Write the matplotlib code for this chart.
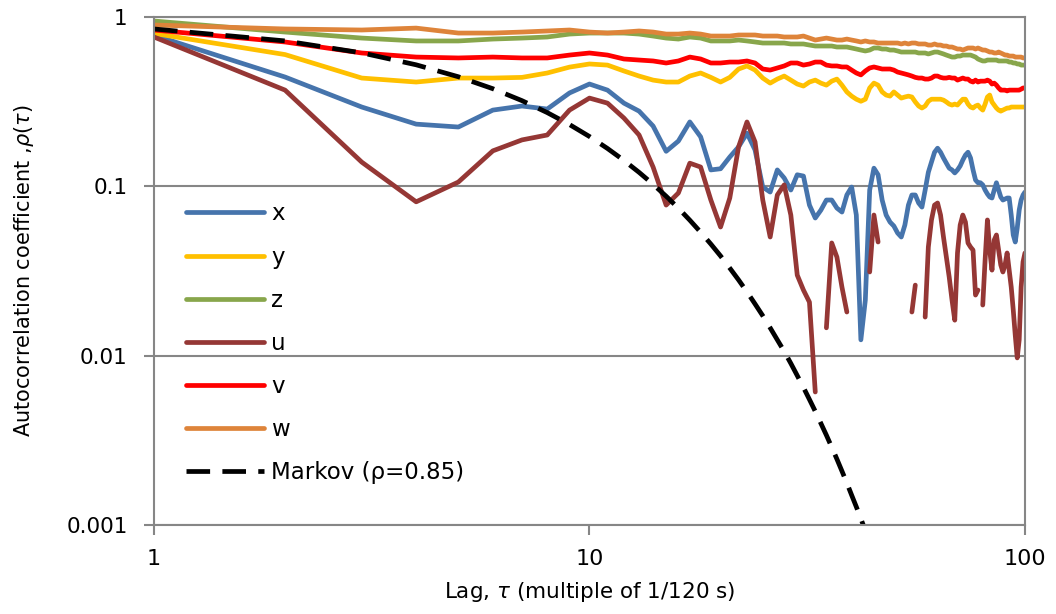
import numpy as np
import matplotlib
matplotlib.use('Agg')
import matplotlib.pyplot as plt

nan = np.nan

# Lags (multiples of 1/120 s)
lags = list(range(1, 101))

x_vals = [0.78, 0.442, 0.294, 0.233, 0.224, 0.282, 0.298, 0.286, 0.356, 0.402,
          0.370, 0.310, 0.278, 0.227, 0.161, 0.185, 0.240, 0.196, 0.125, 0.127,
          0.149, 0.171, 0.206, 0.164, 0.099, 0.0925, 0.125, 0.112, 0.0951, 0.117,
          0.115, 0.0775, 0.065, 0.0724, 0.083, 0.083, 0.0744, 0.0705, 0.0889, 0.0991,
          0.0677, 0.0124, 0.0213, 0.0951, 0.128, 0.117, 0.083, 0.0677, 0.0615, 0.0583,
          0.053, 0.0502, 0.0591, 0.0775, 0.0889, 0.0889, 0.0797, 0.0754, 0.0951, 0.121,
          0.139, 0.159, 0.168, 0.159, 0.147, 0.137, 0.128, 0.125, 0.120, 0.125,
          0.132, 0.143, 0.153, 0.159, 0.147, 0.125, 0.109, 0.105, 0.105, 0.102,
          0.0951, 0.0901, 0.0865, 0.0853, 0.0951, 0.105, 0.0951, 0.0865, 0.083, 0.0841,
          0.0853, 0.0853, 0.0677, 0.0516, 0.0469, 0.0567, 0.0724, 0.083, 0.0889, 0.0925]

y_vals = [0.80, 0.60, 0.436, 0.413, 0.436, 0.436, 0.44, 0.467, 0.506, 0.528,
          0.52, 0.48, 0.448, 0.424, 0.413, 0.413, 0.448, 0.467, 0.44, 0.413,
          0.44, 0.493, 0.514, 0.486, 0.436, 0.407, 0.43, 0.448, 0.424, 0.402,
          0.391, 0.413, 0.424, 0.407, 0.396, 0.418, 0.43, 0.396, 0.361, 0.341,
          0.327, 0.318, 0.327, 0.381, 0.407, 0.396, 0.361, 0.346, 0.341, 0.361,
          0.346, 0.332, 0.337, 0.341, 0.337, 0.315, 0.298, 0.29, 0.298, 0.318,
          0.327, 0.327, 0.327, 0.327, 0.323, 0.315, 0.306, 0.302, 0.306, 0.302,
          0.315, 0.327, 0.327, 0.306, 0.294, 0.29, 0.298, 0.302, 0.29, 0.282,
          0.306, 0.337, 0.346, 0.315, 0.302, 0.29, 0.282, 0.278, 0.282, 0.286,
          0.29, 0.29, 0.294, 0.294, 0.294, 0.294, 0.294, 0.294, 0.294, 0.294]

z_vals = [0.947, 0.815, 0.751, 0.722, 0.722, 0.741, 0.751, 0.762, 0.793, 0.804,
          0.804, 0.804, 0.793, 0.772, 0.751, 0.741, 0.762, 0.751, 0.722, 0.722,
          0.722, 0.731, 0.722, 0.712, 0.702, 0.702, 0.702, 0.702, 0.693, 0.693,
          0.693, 0.683, 0.674, 0.674, 0.674, 0.674, 0.665, 0.665, 0.665, 0.656,
          0.647, 0.638, 0.630, 0.638, 0.656, 0.656, 0.647, 0.647, 0.638, 0.638,
          0.630, 0.621, 0.621, 0.621, 0.621, 0.621, 0.613, 0.613, 0.613, 0.605,
          0.613, 0.621, 0.621, 0.613, 0.605, 0.596, 0.588, 0.58, 0.58, 0.588,
          0.588, 0.596, 0.596, 0.596, 0.596, 0.588, 0.58, 0.565, 0.557, 0.55,
          0.55, 0.557, 0.557, 0.557, 0.557, 0.557, 0.55, 0.55, 0.55, 0.55,
          0.55, 0.542, 0.542, 0.535, 0.535, 0.528, 0.528, 0.52, 0.52, 0.52]

u_vals = [0.762, 0.370, 0.139, 0.081, 0.106, 0.162, 0.188, 0.201, 0.282, 0.332,
          0.310, 0.253, 0.201, 0.130, 0.0775, 0.0913, 0.137, 0.130, 0.083, 0.0575,
          0.0853, 0.171, 0.240, 0.183, 0.083, 0.0502, 0.0889, 0.102, 0.0677, 0.0299,
          0.0244, 0.0207, 0.0061, nan, 0.0146, 0.0463, 0.0382, 0.0254, 0.0181, nan,
          nan, nan, nan, 0.0312, 0.0677, 0.0469, nan, nan, nan, nan,
          nan, nan, nan, nan, 0.0181, 0.0261, nan, nan, 0.0169, 0.0438,
          0.0633, 0.0775, 0.0797, 0.0677, 0.0502, 0.0382, 0.0291, 0.0213, 0.0162, 0.0404,
          0.0591, 0.0677, 0.0615, 0.0463, 0.0438, 0.042, 0.0228, 0.0244, nan, 0.0199,
          0.0367, 0.0633, 0.042, 0.032, 0.0482, 0.0516, 0.042, 0.0343, 0.0312, 0.0343,
          0.0404, 0.032, 0.0254, 0.0186, 0.0132, 0.0097, 0.0124, 0.0254, 0.0358, 0.0404]

v_vals = [0.838, 0.712, 0.613, 0.58, 0.573, 0.58, 0.573, 0.573, 0.596, 0.613,
          0.596, 0.565, 0.557, 0.55, 0.535, 0.55, 0.58, 0.565, 0.535, 0.535,
          0.542, 0.542, 0.55, 0.535, 0.493, 0.486, 0.50, 0.514, 0.535, 0.535,
          0.52, 0.528, 0.542, 0.542, 0.52, 0.514, 0.514, 0.507, 0.507, 0.486,
          0.467, 0.455, 0.48, 0.50, 0.507, 0.50, 0.493, 0.493, 0.493, 0.486,
          0.473, 0.467, 0.461, 0.455, 0.448, 0.44, 0.436, 0.436, 0.43, 0.43,
          0.436, 0.448, 0.448, 0.44, 0.436, 0.436, 0.44, 0.436, 0.436, 0.424,
          0.43, 0.436, 0.43, 0.43, 0.418, 0.413, 0.424, 0.413, 0.418, 0.418,
          0.418, 0.424, 0.418, 0.402, 0.407, 0.396, 0.381, 0.37, 0.37, 0.37,
          0.366, 0.37, 0.37, 0.37, 0.37, 0.37, 0.37, 0.375, 0.381, 0.381]

w_vals = [0.897, 0.85, 0.838, 0.86, 0.804, 0.804, 0.815, 0.827, 0.838, 0.815,
          0.804, 0.815, 0.827, 0.815, 0.793, 0.793, 0.804, 0.793, 0.772, 0.772,
          0.772, 0.783, 0.783, 0.783, 0.772, 0.772, 0.772, 0.762, 0.762, 0.762,
          0.772, 0.751, 0.731, 0.741, 0.751, 0.741, 0.731, 0.731, 0.741, 0.731,
          0.722, 0.712, 0.722, 0.712, 0.712, 0.702, 0.702, 0.702, 0.702, 0.702,
          0.702, 0.693, 0.702, 0.693, 0.702, 0.702, 0.693, 0.693, 0.693, 0.683,
          0.683, 0.693, 0.683, 0.683, 0.674, 0.674, 0.665, 0.665, 0.656, 0.647,
          0.647, 0.638, 0.647, 0.656, 0.656, 0.656, 0.647, 0.656, 0.647, 0.638,
          0.638, 0.630, 0.621, 0.621, 0.613, 0.613, 0.621, 0.613, 0.605, 0.596,
          0.596, 0.588, 0.588, 0.588, 0.58, 0.58, 0.58, 0.58, 0.573, 0.573]

# Markov model, rho = 0.85 (values rho**lag for lags 1..44)
markov_vals = [0.85, 0.7225, 0.614, 0.522, 0.4437, 0.3771, 0.3206, 0.2725, 0.2316, 0.1969,
               0.1673, 0.1422, 0.1209, 0.1028, 0.0874, 0.0743, 0.0631, 0.0536, 0.0456, 0.0388,
               0.0329, 0.0280, 0.0238, 0.0202, 0.0172, 0.0146, 0.0124, 0.0106, 0.0090, 0.00763,
               0.00649, 0.00551, 0.00469, 0.00398, 0.00339, 0.00288, 0.00245, 0.00208, 0.00177, 0.00150,
               0.00128, 0.00109, 0.000924, 0.000785]

series_names = ['x', 'y', 'z', 'u', 'v', 'w']
series_colors = ['#4674AC', '#FFC000', '#88A64B', '#953735', '#FF0000', '#DE843A']
series_data = [x_vals, y_vals, z_vals, u_vals, v_vals, w_vals]

fig = plt.figure(figsize=(10.56, 6.14), dpi=100)
ax = fig.add_axes([0.1458, 0.145, 0.8248, 0.8273])

lw = 3.4
for name, col, vals in zip(series_names, series_colors, series_data):
    ax.plot(lags, vals, color=col, lw=lw, label=name,
            solid_capstyle='round', solid_joinstyle='round')
ax.plot(lags[:len(markov_vals)], markov_vals, color='black', lw=lw,
        dashes=(5.0, 2.6), label='Markov (\u03c1=0.85)')

ax.set_xscale('log')
ax.set_yscale('log')
ax.set_xlim(1, 100)
ax.set_ylim(0.001, 1)

gray = '#868686'
ax.set_xticks([1, 10, 100])
ax.set_xticklabels(['1', '10', '100'])
ax.set_yticks([0.001, 0.01, 0.1, 1])
ax.set_yticklabels(['0.001', '0.01', '0.1', '1'])
ax.minorticks_off()
ax.tick_params(axis='both', direction='out', length=7, width=1.5, color=gray)
ax.tick_params(axis='y', labelsize=15.5, pad=12)
ax.tick_params(axis='x', labelsize=16, pad=10)
ax.yaxis.grid(True, color=gray, lw=1.5)
for s in ax.spines.values():
    s.set_color(gray)
    s.set_linewidth(1.5)

ax.set_xlabel('Lag, $\\tau$ (multiple of 1/120 s)', fontsize=15.5, labelpad=8)
ax.set_ylabel('Autocorrelation coefficient ,$\\rho(\\tau)$', fontsize=15)
ax.yaxis.set_label_coords(-0.135, 0.5)

leg = ax.legend(loc='upper left', bbox_to_anchor=(0.037, 0.635), frameon=False,
                fontsize=16.5, handlelength=3.4, handletextpad=0.3,
                labelspacing=0.88, borderpad=0, borderaxespad=0)

fig.savefig('out.png', dpi=100)
